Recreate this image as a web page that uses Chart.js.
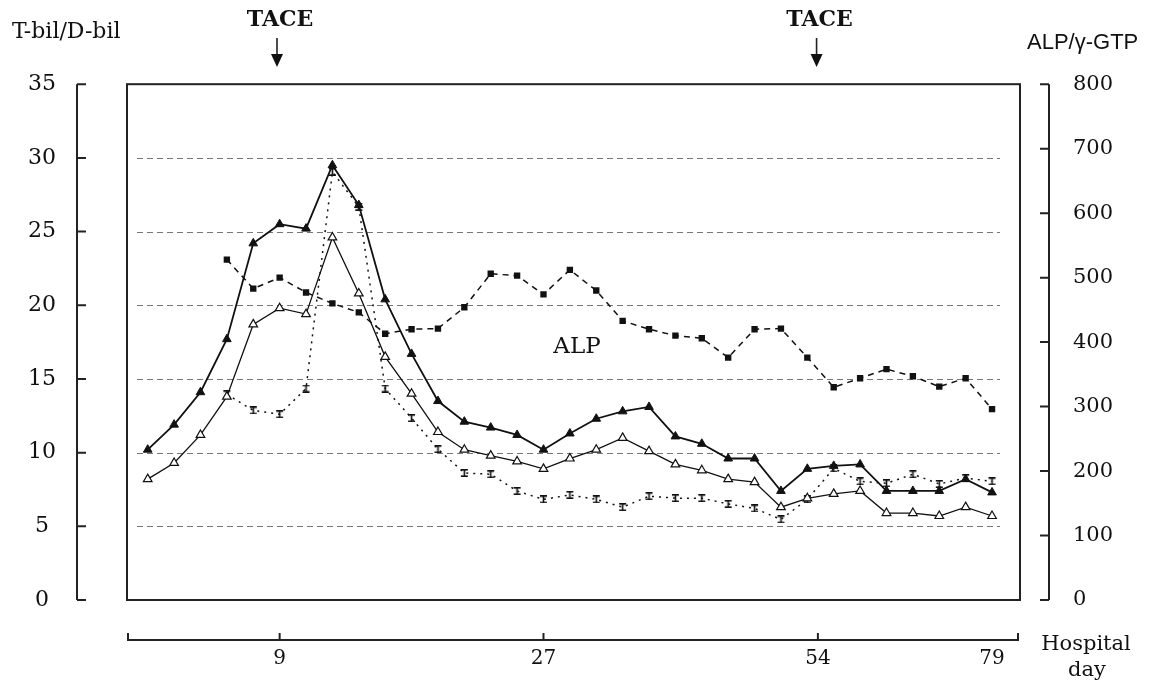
<!DOCTYPE html>
<html>
<head>
<meta charset="utf-8">
<script src="https://cdn.jsdelivr.net/npm/chart.js@4.4.0/dist/chart.umd.min.js"></script>
<style>
  html, body { margin: 0; padding: 0; background: #fff; }
</style>
</head>
<body>
<canvas id="labChart" width="1150" height="686"></canvas>
<script>
// x is the sample number (0..32), bottom axis only shows a few hospital days
const dayIndex = [5, 15, 25.4, 32];
const dayLabels = ['9', '27', '54', '79'];
const tacePoints = [4.9, 25.35];

const tBil = [10.2, 11.9, 14.1, 17.7, 24.2, 25.5, 25.2, 29.5, 26.8, 20.4, 16.7, 13.5, 12.1, 11.7, 11.2, 10.2,
              11.3, 12.3, 12.8, 13.1, 11.1, 10.6, 9.6, 9.6, 7.4, 8.9, 9.1, 9.2, 7.4, 7.4, 7.4, 8.2, 7.3];
const dBil = [8.2, 9.3, 11.2, 13.8, 18.7, 19.8, 19.4, 24.6, 20.8, 16.5, 14.0, 11.4, 10.2, 9.8, 9.4, 8.9,
              9.6, 10.2, 11.0, 10.1, 9.2, 8.8, 8.2, 8.0, 6.3, 6.9, 7.2, 7.4, 5.9, 5.9, 5.7, 6.3, 5.7];
const alp = [null, null, null, 528, 483, 500, 477, 460, 446, 413, 420, 421, 454, 506, 503, 474,
             512, 480, 433, 420, 410, 406, 376, 420, 421, 376, 330, 344, 358, 347, 331, 344, 296];
const gGtp = [null, null, null, 319, 294, 288, 328, 664, 610, 328, 282, 234, 197, 195, 169, 156,
              163, 156, 144, 161, 158, 158, 149, 142, 125, 156, 204, 184, 181, 195, 180, 189, 184];

const leftTicks = [0, 5, 10, 15, 20, 25, 30, 35];
const gridValues = [5, 10, 15, 20, 25, 30];

const serif = 'DejaVu Serif';
const ink = '#111';

function pts(arr) {
    return arr.map((v, i) => ({ x: i, y: v }));
}

// little I-beam marker used for the gamma-GTP points
function makeIBeam() {
    const c = document.createElement('canvas');
    c.width = 9; c.height = 8;
    const g = c.getContext('2d');
    g.fillStyle = ink;
    g.fillRect(1, 0, 7, 1.6);
    g.fillRect(1, 6.4, 7, 1.6);
    g.fillRect(3.7, 0, 1.6, 8);
    return c;
}

const decor = {
    id: 'decor',
    beforeDatasetsDraw(chart) {
        const { ctx, chartArea: a, scales } = chart;
        ctx.save();
        ctx.strokeStyle = '#777';
        ctx.lineWidth = 1;
        ctx.setLineDash([6, 4]);
        gridValues.forEach(v => {
            const y = Math.round(scales.y.getPixelForValue(v)) + 0.5;
            ctx.beginPath();
            ctx.moveTo(a.left + 10, y);
            ctx.lineTo(a.right - 20, y);
            ctx.stroke();
        });
        ctx.restore();
    },
    afterDraw(chart) {
        const { ctx, chartArea: a, scales } = chart;
        ctx.save();
        ctx.strokeStyle = '#222';
        ctx.fillStyle = ink;
        ctx.lineWidth = 2;

        // plot frame
        ctx.strokeRect(a.left, a.top, a.right - a.left, a.bottom - a.top);

        // left axis, detached from the frame
        const lx = a.left - 50;
        ctx.beginPath();
        ctx.moveTo(lx, a.top);
        ctx.lineTo(lx, a.bottom);
        leftTicks.forEach(v => {
            const y = scales.y.getPixelForValue(v);
            ctx.moveTo(lx, y);
            ctx.lineTo(lx + 9, y);
        });
        ctx.stroke();

        // right axis
        const rx = a.right + 29;
        ctx.beginPath();
        ctx.moveTo(rx, a.top);
        ctx.lineTo(rx, a.bottom);
        scales.y2.ticks.forEach(t => {
            const y = scales.y2.getPixelForValue(t.value);
            ctx.moveTo(rx - 9, y);
            ctx.lineTo(rx, y);
        });
        ctx.stroke();

        // hospital day axis
        const by = a.bottom + 40;
        ctx.beginPath();
        ctx.moveTo(a.left + 1, by - 7);
        ctx.lineTo(a.left + 1, by);
        ctx.lineTo(a.right - 2, by);
        ctx.lineTo(a.right - 2, by - 7);
        dayIndex.slice(0, 3).forEach(d => {
            const x = scales.x.getPixelForValue(d);
            ctx.moveTo(x, by);
            ctx.lineTo(x, by - 7);
        });
        ctx.stroke();

        // TACE arrows
        tacePoints.forEach(p => {
            const x = scales.x.getPixelForValue(p);
            ctx.font = 'bold 22px "' + serif + '"';
            ctx.textAlign = 'center';
            ctx.textBaseline = 'middle';
            ctx.fillText('TACE', x + 3, 20);
            ctx.lineWidth = 1.6;
            ctx.beginPath();
            ctx.moveTo(x, 38);
            ctx.lineTo(x, 56);
            ctx.stroke();
            ctx.beginPath();
            ctx.moveTo(x - 6, 54);
            ctx.lineTo(x + 6, 54);
            ctx.lineTo(x, 67);
            ctx.closePath();
            ctx.fill();
        });

        // axis titles and labels
        ctx.textBaseline = 'middle';
        ctx.textAlign = 'left';
        ctx.font = '22px "' + serif + '"';
        ctx.fillText('T-bil/D-bil', 12, 32);
        ctx.font = '22px "Liberation Sans"';
        ctx.fillText('ALP/\u03b3-GTP', 1027, 43);

        ctx.textAlign = 'center';
        ctx.font = '21px "' + serif + '"';
        ctx.fillText('Hospital', 1086, 645);
        ctx.fillText('day', 1087, 671);

        ctx.font = '23px "' + serif + '"';
        ctx.fillText('ALP', scales.x.getPixelForValue(16.27), scales.y2.getPixelForValue(392));
        ctx.restore();
    }
};

const ctx = document.getElementById('labChart').getContext('2d');
const labChart = new Chart(ctx, {
    type: 'line',
    data: {
        datasets: [{
            label: 'T-bil',
            data: pts(tBil),
            yAxisID: 'y',
            borderColor: ink,
            borderWidth: 1.8,
            pointStyle: 'triangle',
            pointRadius: 5,
            pointBackgroundColor: ink,
            pointBorderColor: ink,
            pointBorderWidth: 1
        }, {
            label: 'D-bil',
            data: pts(dBil),
            yAxisID: 'y',
            borderColor: ink,
            borderWidth: 1.3,
            pointStyle: 'triangle',
            pointRadius: 5,
            pointBackgroundColor: '#fff',
            pointBorderColor: ink,
            pointBorderWidth: 1.2
        }, {
            label: 'ALP',
            data: pts(alp),
            yAxisID: 'y2',
            borderColor: ink,
            borderWidth: 1.5,
            borderDash: [6, 5],
            pointStyle: 'rect',
            pointRadius: 4.5,
            pointBackgroundColor: ink,
            pointBorderColor: ink,
            pointBorderWidth: 0
        }, {
            label: '\u03b3-GTP',
            data: pts(gGtp),
            yAxisID: 'y2',
            borderColor: ink,
            borderWidth: 1.5,
            borderDash: [2, 5],
            pointStyle: makeIBeam(),
            pointRadius: 4
        }]
    },
    options: {
        responsive: false,
        animation: false,
        spanGaps: false,
        layout: { padding: { top: 81, left: 0, right: 0, bottom: 0 } },
        plugins: {
            legend: { display: false },
            tooltip: { enabled: false }
        },
        elements: { line: { tension: 0, fill: false } },
        scales: {
            x: {
                type: 'linear',
                min: -0.785,
                max: 33.06,
                grid: { display: false, drawTicks: false },
                border: { display: false },
                afterBuildTicks: s => { s.ticks = dayIndex.map(v => ({ value: v })); },
                afterFit: s => { s.height = 86; },
                ticks: {
                    autoSkip: false,
                    maxRotation: 0,
                    padding: 47,
                    color: ink,
                    font: { family: serif, size: 20 },
                    callback: (v, i) => dayLabels[i]
                }
            },
            y: {
                position: 'left',
                min: 0,
                max: 35,
                grid: { display: false, drawTicks: false },
                border: { display: false },
                afterFit: s => { s.width = 127; },
                ticks: {
                    stepSize: 5,
                    padding: 71,
                    crossAlign: 'center',
                    color: ink,
                    font: { family: serif, size: 22 }
                }
            },
            y2: {
                position: 'right',
                min: 0,
                max: 800,
                grid: { display: false, drawTicks: false },
                border: { display: false },
                afterFit: s => { s.width = 130; },
                ticks: {
                    stepSize: 100,
                    padding: 53,
                    color: ink,
                    font: { family: serif, size: 21 }
                }
            }
        }
    },
    plugins: [decor]
});
</script>
</body>
</html>
